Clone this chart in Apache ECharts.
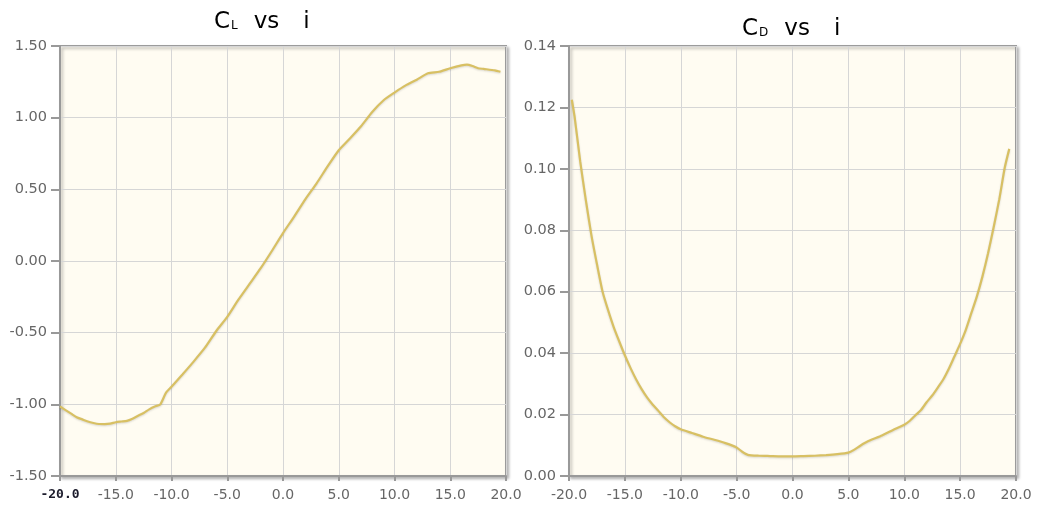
<!DOCTYPE html>
<html>
<head>
<meta charset="utf-8">
<script src="https://cdn.jsdelivr.net/npm/echarts@6/dist/echarts.min.js"></script>
<style>
html,body{margin:0;padding:0;background:#fff;}
#chart{width:1037px;height:508px;}
</style>
</head>
<body>
<div id="chart"></div>
<script>
// Lift coefficient vs incidence
const clAngle = [-20,-19.5,-19,-18.5,-18,-17.5,-17,-16.5,-16,-15.5,-15,-14.5,-14,-13.5,-13,-12.5,-12,-11.5,-11,-10.5,-10,-9,-8,-7,-6,-5,-4,-3,-2,-1,0,1,2,3,4,5,6,7,8,9,10,11,12,13,14,15,16,16.5,17,17.5,18,19,19.5];
const clValues = [-1.015,-1.04,-1.065,-1.09,-1.105,-1.12,-1.13,-1.137,-1.138,-1.135,-1.125,-1.12,-1.115,-1.10,-1.08,-1.06,-1.035,-1.015,-1.0,-0.92,-0.877,-0.79,-0.70,-0.605,-0.49,-0.39,-0.27,-0.16,-0.05,0.07,0.195,0.31,0.43,0.54,0.66,0.773,0.855,0.94,1.04,1.12,1.175,1.225,1.265,1.31,1.32,1.345,1.365,1.37,1.36,1.345,1.34,1.33,1.32];

// Drag coefficient vs incidence
const cdAngle = [-19.75,-19.5,-19,-18.5,-18,-17.5,-17,-16.5,-16,-15.5,-15,-14.5,-14,-13.5,-13,-12.5,-12,-11.5,-11,-10.5,-10,-9,-8,-7,-6,-5,-4.5,-4,-3,-2,-1,0,1,2,3,4,5,5.5,6,6.5,7,8,9,10,10.5,11,11.5,12,12.5,13,13.5,14,14.5,15,15.5,16,16.5,17,17.5,18,18.5,19,19.4];
const cdValues = [0.1225,0.117,0.1025,0.090,0.0785,0.069,0.0601,0.054,0.0485,0.0438,0.0393,0.0352,0.0315,0.0283,0.0255,0.0232,0.0212,0.0191,0.0175,0.0162,0.0152,0.014,0.0128,0.0118,0.0107,0.0093,0.0079,0.0069,0.0066,0.0065,0.0064,0.0064,0.0065,0.0066,0.0068,0.0071,0.0076,0.0085,0.0097,0.0108,0.0117,0.0132,0.015,0.0167,0.018,0.0198,0.0215,0.024,0.0262,0.0288,0.0315,0.035,0.039,0.043,0.0475,0.053,0.0585,0.065,0.0725,0.081,0.090,0.1005,0.1065];

const xTickDecimals = 1;
const yTickDecimals = 2;

const pairs = (xs, ys) => xs.map((x, i) => [x, ys[i]]);

const lineColor = '#d8c063';
const labelFont = 'DejaVu Sans';

function gridStyle(left, right) {
  return {
    left: left, right: right, top: 46, bottom: 32,
    show: true,
    backgroundColor: '#fffcf2',
    borderColor: '#9b9b9b',
    borderWidth: 2,
    shadowColor: 'rgba(0,0,0,0.25)',
    shadowBlur: 3,
    shadowOffsetX: 2,
    shadowOffsetY: 2
  };
}

function xAxisCfg(gridIndex, boldFirst) {
  return {
    type: 'value', gridIndex: gridIndex, min: -20, max: 20, interval: 5,
    axisLine: { show: true, onZero: false, lineStyle: { color: '#999', width: 2 } },
    axisTick: { show: true, length: 5, lineStyle: { color: '#999', width: 2 } },
    splitLine: { show: true, lineStyle: { color: '#d6d6d6', width: 1 } },
    axisLabel: {
      color: '#666', fontFamily: labelFont, fontSize: 14, margin: 12,
      formatter: function (v) {
        const s = v.toFixed(xTickDecimals);
        return (boldFirst && v === -20) ? '{first|' + s + '}' : s;
      },
      rich: {
        first: { fontFamily: 'DejaVu Sans Mono', fontWeight: 'bold', color: '#1c1c2c', fontSize: 13 }
      }
    }
  };
}

function yAxisCfg(gridIndex, min, max, interval) {
  return {
    type: 'value', gridIndex: gridIndex, min: min, max: max, interval: interval,
    axisLine: { show: true, onZero: false, lineStyle: { color: '#999', width: 2 } },
    axisTick: { show: true, length: 9, lineStyle: { color: '#999', width: 2 } },
    splitLine: { show: true, lineStyle: { color: '#d6d6d6', width: 1 } },
    axisLabel: {
      color: '#666', fontFamily: labelFont, fontSize: 14.5, margin: 13,
      formatter: function (v) { return v.toFixed(yTickDecimals); }
    }
  };
}

function titleCfg(left, top, sub) {
  const base = { fontFamily: 'DejaVu Sans', fontWeight: 'normal', color: '#000' };
  return {
    left: left, top: top, padding: 0,
    text: '{c|C}{s|' + sub + '}{v|vs}{i|i}',
    textStyle: {
      fontWeight: 'normal',
      rich: {
        c: Object.assign({}, base, { fontSize: 23, lineHeight: 26 }),
        s: Object.assign({}, base, { fontSize: 12, verticalAlign: 'bottom', lineHeight: 12, padding: [0, 0, 3, 1] }),
        v: Object.assign({}, base, { fontSize: 23, lineHeight: 26, padding: [0, 0, 0, 16] }),
        i: Object.assign({}, base, { fontSize: 23, lineHeight: 26, padding: [0, 0, 0, 24] })
      }
    }
  };
}

const chart = echarts.init(document.getElementById('chart'), null, { renderer: 'canvas' });
chart.setOption({
  animation: false,
  backgroundColor: '#ffffff',
  title: [titleCfg(214, 9, 'L'), titleCfg(742, 16, 'D')],
  grid: [gridStyle(60, 531), gridStyle(569, 21)],
  xAxis: [xAxisCfg(0, true), xAxisCfg(1, false)],
  yAxis: [yAxisCfg(0, -1.5, 1.5, 0.5), yAxisCfg(1, 0, 0.14, 0.02)],
  series: [
    {
      type: 'line', xAxisIndex: 0, yAxisIndex: 0, showSymbol: false, smooth: 0.2,
      data: pairs(clAngle, clValues),
      lineStyle: { color: lineColor, width: 2.2, shadowColor: 'rgba(0,0,0,0.15)', shadowBlur: 2, shadowOffsetY: 1 }
    },
    {
      type: 'line', xAxisIndex: 1, yAxisIndex: 1, showSymbol: false, smooth: 0.2,
      data: pairs(cdAngle, cdValues),
      lineStyle: { color: lineColor, width: 2.2, shadowColor: 'rgba(0,0,0,0.15)', shadowBlur: 2, shadowOffsetY: 1 }
    }
  ]
});
</script>
</body>
</html>
